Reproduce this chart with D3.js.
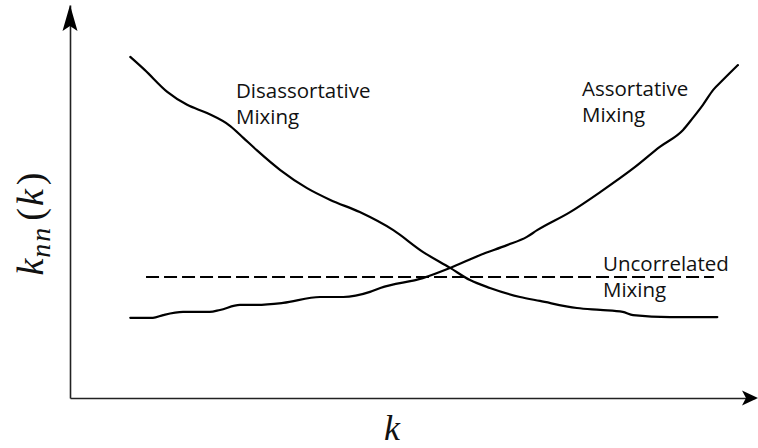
<!DOCTYPE html>
<html><head><meta charset="utf-8">
<script src="https://cdn.jsdelivr.net/npm/d3@7"></script>
<style>
html,body{margin:0;padding:0;background:#fff;}
svg{display:block;}
.lbl{font-family:"Open Sans",sans-serif;font-size:20.5px;fill:#111;}
.math{font-family:"Liberation Serif","DejaVu Serif",serif;font-style:italic;fill:#111;}
</style></head>
<body>
<svg id="chart" width="758" height="448"></svg>
<script>
// Data (k and knn in arbitrary units 0..100)
const disK   = [8.8,10.9,14.2,17.1,20.0,23.4,25.3,27.3,30.7,34.6,38.0,42.3,47.2,51.5,55.5,58.4,61.3,65.7,68.6,74.0,77.4,80.7,82.2,87.6,94.5];
const disKnn = [86.8,83.5,77.9,74.6,72.5,69.2,66.2,63.0,58.0,53.4,50.4,47.3,42.7,37.2,33.1,30.0,28.0,25.7,24.7,22.9,22.4,21.9,21.1,20.6,20.6];
const asK    = [8.8,12.1,13.6,16.5,20.4,21.9,24.8,27.3,31.1,36.5,39.9,43.8,45.3,51.5,55.5,59.9,63.8,66.7,68.2,73.0,77.4,82.5,86.1,89.5,90.9,92.4,93.9,95.3,97.5];
const asKnn  = [20.4,20.4,21.1,21.9,21.9,22.4,23.7,23.7,24.2,25.7,25.7,27.0,28.0,30.5,33.1,36.4,38.9,41.0,42.7,47.3,52.4,58.8,63.9,68.2,71.2,74.6,78.4,80.9,84.7];
const unK    = [11.1,94.0];
const unKnn  = [30.8,30.8];
const labels = ["Disassortative\nMixing","Assortative\nMixing","Uncorrelated\nMixing"];

const svg = d3.select("#chart");
const x = d3.scaleLinear().domain([0,100]).range([70,755]);
const y = d3.scaleLinear().domain([0,100]).range([398,5]);

// axes (no ticks)
const xAxis = svg.append("g").attr("transform",`translate(0,${y(0)})`)
  .call(d3.axisBottom(x).tickValues([]).tickSizeOuter(0));
const yAxis = svg.append("g").attr("transform",`translate(${x(0)},0)`)
  .call(d3.axisLeft(y).tickValues([]).tickSizeOuter(0));
[xAxis,yAxis].forEach(g=>g.select(".domain").attr("stroke","#222").attr("stroke-width",1.6));
const x0 = x(0), y0 = y(0), xe = x(100)+3, ye = y(100);
svg.append("path")
  .attr("d",`M${xe},${y0} L${xe-16},${y0-7.5} L${xe-12},${y0} L${xe-16},${y0+7.5} Z`)
  .attr("fill","#000");
svg.append("path")
  .attr("d",`M${x0},${ye} L${x0-7.5},${ye+26} L${x0},${ye+21} L${x0+7.5},${ye+26} Z`)
  .attr("fill","#000");

const line = d3.line().curve(d3.curveMonotoneX).x(d=>x(d[0])).y(d=>y(d[1]));
const zip = (a,b)=>a.map((v,i)=>[v,b[i]]);

svg.append("path").datum(zip(disK,disKnn)).attr("d",line)
  .attr("fill","none").attr("stroke","#000").attr("stroke-width",2.2).attr("stroke-linejoin","round").attr("stroke-linecap","round");
svg.append("path").datum(zip(asK,asKnn)).attr("d",line)
  .attr("fill","none").attr("stroke","#000").attr("stroke-width",2.2).attr("stroke-linejoin","round").attr("stroke-linecap","round");
svg.append("path").datum(zip(unK,unKnn)).attr("d",d3.line().x(d=>x(d[0])).y(d=>y(d[1])))
  .attr("fill","none").attr("stroke","#000").attr("stroke-width",2).attr("stroke-dasharray","13,5");

// annotation labels
const pos = [[236,98],[582,96],[603,271]];
labels.forEach((t,i)=>{
  const tx = svg.append("text").attr("class","lbl").attr("x",pos[i][0]).attr("y",pos[i][1]);
  t.split("\n").forEach((s,j)=>tx.append("tspan").attr("x",pos[i][0]).attr("dy",j?26:0).text(s));
});

// axis titles
svg.append("text").attr("class","math").attr("x",392).attr("y",440)
  .attr("text-anchor","middle").style("font-size","36px").text("k");
const yt = svg.append("text").attr("class","math")
  .attr("transform","translate(43,224) rotate(-90)")
  .attr("text-anchor","middle").style("font-size","38px");
yt.append("tspan").text("k");
yt.append("tspan").attr("dy",7).attr("dx",1).style("font-size","28px").style("letter-spacing","2px").text("nn");
yt.append("tspan").attr("dy",-7).attr("dx",5).style("font-style","normal").style("font-weight","300").text("(");
yt.append("tspan").attr("dx",2).text("k");
yt.append("tspan").attr("dx",4).style("font-style","normal").text(")");
</script>
</body></html>
